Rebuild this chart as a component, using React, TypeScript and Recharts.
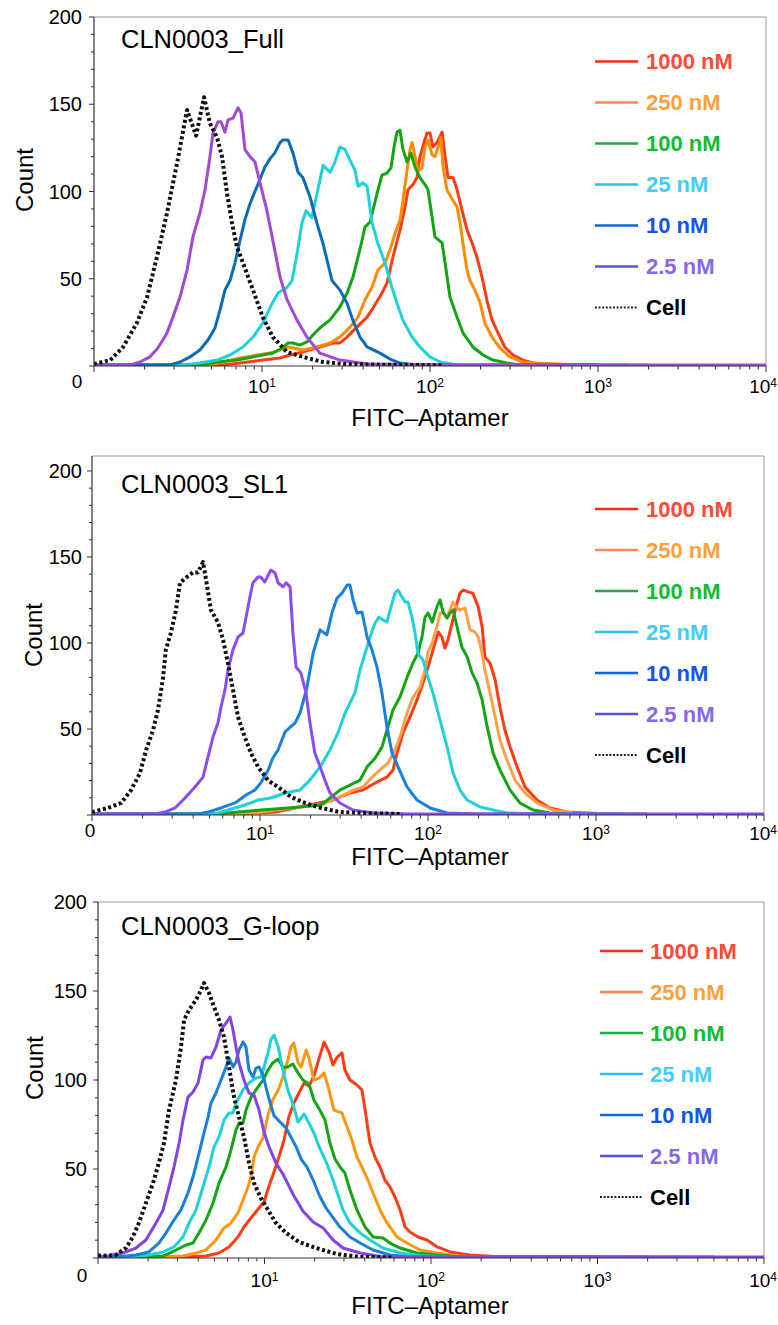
import React from 'react';
import { LineChart, Line, XAxis, YAxis, ReferenceLine } from 'recharts';

type Pt = [number, number];

const FONT = '"Liberation Sans", Arial, Helvetica, sans-serif';

// ---------- labels ----------
const seriesNames = ['1000 nM', '250 nM', '100 nM', '25 nM', '10 nM', '2.5 nM', 'Cell'];
const panelTitles = ['CLN0003_Full', 'CLN0003_SL1', 'CLN0003_G-loop'];
const xAxisTitle = 'FITC\u2013Aptamer';
const yAxisTitle = 'Count';
const yTicks = [0, 10, 20, 30, 40, 50, 60, 70, 80, 90, 100, 110, 120, 130, 140, 150, 160, 170, 180, 190, 200];
const yLabeled = [50, 100, 150, 200];
const xDecades = [1, 10, 100, 1000, 10000];
const xMinor = [2, 3, 4, 5, 6, 7, 8, 9, 20, 30, 40, 50, 60, 70, 80, 90, 200, 300, 400, 500, 600, 700, 800, 900, 2000, 3000, 4000, 5000, 6000, 7000, 8000, 9000];

// ---------- Panel 1 : CLN0003_Full ----------
const full1000: Pt[] = [[1,0.6],[5.86,0.6],[7.4,1.7],[10.1,3.4],[12.8,4.6],[14.7,6.3],[17.5,8],[22.1,10.9],[26.5,13.2],[29.1,13.2],[32.1,16.6],[36.7,22.3],[42.2,28],[45.8,33.2],[51.8,41.8],[55.5,47.6],[60.2,62.5],[66.3,78],[71,91],[74,101],[79.2,104],[83.7,108],[87.1,120],[92.1,128],[96,133.5],[100,133.5],[104,125.5],[110,128],[118,134],[123,120],[128,108],[137,108],[145,101],[155,89.4],[166,78],[178,70.5],[190,62.5],[204,51],[218,37.8],[234,26.4],[254,19],[279,10.9],[312,6.3],[358,3.4],[410,1.7],[540,0.6],[1000,0.6]];
const full250: Pt[] = [[1,0.6],[4.9,0.6],[5.86,2.3],[7.4,4.6],[9.33,6.3],[11.2,7.4],[12.8,9.2],[14.3,10.9],[15.3,10.3],[17.5,9.2],[21.2,10.9],[25.4,13.2],[29.1,16.6],[33.4,22.3],[37.3,28],[41,37.8],[45.2,45.3],[49,55],[54,59],[57.8,66.5],[61.9,76],[66.3,83.7],[69.1,95],[73,112],[76,124],[78.2,128],[81.4,120],[84.8,112],[89.6,113.5],[93.4,125.5],[97.3,129.5],[103,121],[107,120],[112,125.5],[116,131],[119,116],[126,101],[135,96],[145,91],[151,82],[157,70.5],[166,55],[173,49],[185,43.5],[199,36],[212,24.6],[234,16.6],[261,10.3],[299,5.2],[353,2.3],[410,1.7],[681,0.9]];
const full100: Pt[] = [[1,0.6],[4.27,0.6],[5.4,2.3],[7.1,3.4],[8.84,5.2],[10.1,6.3],[11.6,7.4],[13.2,10.3],[14.3,13.2],[15.3,13.2],[16.8,12],[18.5,13.8],[20.1,17.8],[22.1,21.8],[25.4,26.4],[29.1,33.8],[32.1,41.8],[34.8,51],[37.3,62.5],[39.4,72],[41,79.6],[44,82.5],[45.8,89.4],[48.4,99],[51.8,109.4],[55.5,110.6],[58.6,113.5],[61.1,125.5],[63.6,134],[66.3,135],[69.1,124],[73,117],[77.1,122],[81.4,114],[87.1,108],[93.4,104],[97.3,101],[103,85],[107,74],[118,70.5],[123,59],[131.5,39.5],[145,28],[157,19],[180,10.9],[207,6.3],[237,3.4],[287,1.7],[343,0.6],[1500,0.6]];
const full25: Pt[] = [[1,0.6],[3.39,0.6],[4.27,1.7],[5.4,3.4],[6.45,6.3],[7.71,10.9],[8.84,16.6],[10.1,24.6],[11.5,36],[12.5,42],[14.1,45],[15.1,49],[16.2,65],[17.3,82],[18.3,89],[19.8,85],[21.5,101],[23.1,115],[25.4,111],[27.2,117],[29.1,125.5],[31.2,124],[33.4,118],[35.8,112],[37.3,103],[39.9,105],[42.2,103],[45.2,82],[49,70],[54,59],[59.4,45],[63.6,36],[69.1,26],[78.2,16.6],[87.1,10.9],[100,5.2],[115,2.3],[145,0.6],[2000,0.6]];
const full10: Pt[] = [[1,0.6],[2.83,0.6],[3.25,2.3],[3.73,5.2],[4.27,9.2],[4.77,14.9],[5.25,21.8],[5.62,32],[6.02,43.5],[6.45,49],[6.9,59],[7.4,72],[7.92,84],[8.48,93],[9.08,100],[9.73,107],[10.4,114],[11.2,119],[11.9,122],[12.8,128],[13.3,129.5],[14.3,129.5],[15.3,122],[16.4,111],[17.5,108],[19.3,97],[21.2,82],[23.1,70],[26.1,49],[29.1,43.5],[32.1,36],[34.8,26],[38.3,16.6],[42.2,10.9],[50.4,7.4],[57.8,4],[66.3,1.7],[83.7,0.6],[1000,0.6]];
const full2p5: Pt[] = [[1,0.6],[1.64,0.6],[1.88,2.3],[2.15,5.2],[2.4,10.3],[2.72,18.9],[2.95,28],[3.25,39.5],[3.58,55],[3.88,74],[4.27,87.7],[4.58,101],[4.9,120],[5.11,133.5],[5.47,140],[5.7,140],[6.02,134],[6.28,141],[6.72,142],[7.2,148],[7.5,145],[7.92,124],[8.48,120],[9.08,117],[9.73,105],[10.7,89],[11.6,72],[12.8,51],[14.1,38],[16.2,26],[18.5,16.6],[22.1,7.4],[29.1,3.4],[42.2,1.1],[131,0.6],[10000,0.6]];
const fullCell: Pt[] = [[1,1.1],[1.25,3.4],[1.49,10.9],[1.8,24.6],[2.07,39.5],[2.37,62.5],[2.72,87.7],[3.12,116],[3.58,146.7],[4.05,132],[4.52,154],[4.9,139],[5.4,131],[5.78,120],[6.19,99],[6.63,82],[7.1,68],[7.71,59],[8.84,43.5],[10.1,28],[11.6,16.6],[14.1,8],[17.5,5.2],[23.1,2.3],[31.2,1.1],[66,0.6],[120,0.4]];

// ---------- Panel 2 : CLN0003_SL1 ----------
const sl1_1000: Pt[] = [[1,0.6],[7.6,0.6],[12.3,1.7],[17.3,4.7],[27.2,8.7],[34.3,12.8],[41,14.5],[49.7,19.2],[57,22],[61.9,26.2],[65.4,36],[71,47.7],[78.2,57],[86,66.9],[93.4,76.7],[103,90],[110,100],[115,106.4],[121,103.5],[126,97],[131.5,101.7],[139,111.6],[149,123.3],[155,129],[162,130.8],[173,129.7],[185,129],[199,121],[210,109.3],[218,91.9],[234,88.4],[251,78.5],[268,62.8],[287,49.4],[308,39.5],[339,28],[378,16.3],[446,8.7],[532,4.1],[672,1.7],[884,1.2],[1200,0.6],[2000,0.6]];
const sl1_250: Pt[] = [[1,0.6],[6.63,0.6],[10,1.7],[17.3,4.7],[22.8,5.8],[29.9,10.5],[35.8,14.5],[41,16.3],[46.4,22],[51.8,26.2],[57.8,30.2],[63.6,37.8],[68.1,45.3],[75,59.3],[81.4,68.6],[89.6,74.4],[96,84.3],[100,94.8],[106,100],[113,109.3],[118,117.4],[123,117.4],[130,114.5],[135,119.2],[141,123.8],[147,121],[155,119.2],[166,120.3],[178,107.6],[190,106.4],[199,103.5],[210,94],[218,84.3],[234,71],[251,57],[268,43.6],[295,32],[330,20.3],[378,12.8],[446,7],[555,2.9],[730,1.2],[1000,0.6],[2000,0.6]];
const sl1_100: Pt[] = [[1,0.6],[5.4,0.6],[7.4,1.7],[10.1,2.9],[14.7,4.1],[23.1,5.8],[26.1,9.9],[29.9,14.5],[34.3,17.4],[39.4,20.3],[43.4,28],[48.4,33],[53.2,39.5],[57,49.4],[61.9,61],[68.1,68.6],[75,80],[81.4,88.4],[87.1,94],[92.1,103.5],[96,115],[100,117.4],[106,112.2],[113,121],[118,125],[123,118],[130,114.5],[135,117.4],[141,119.2],[149,109.3],[159,97.7],[171,91.9],[183,82.6],[196,76.7],[210,66.9],[225,51.2],[244,36],[268,26.2],[308,14.5],[353,7],[422,2.9],[532,1.2],[700,0.6],[1500,0.6]];
const sl1_25: Pt[] = [[1,0.6],[5.4,0.6],[6.45,2.9],[8.14,5.8],[9.73,8.7],[11.6,9.9],[14.1,12.8],[17.3,14.5],[19.8,20.3],[22.8,28],[26.1,37.8],[29.1,47.7],[32.1,59.3],[34.3,65],[36.7,71],[39.4,84.3],[42.2,94],[45.2,103.5],[48.4,111.6],[51.1,115],[54,113.4],[57,112.2],[60.2,121],[63.6,129],[66.3,130.8],[70,126.7],[73,123.8],[76,123.8],[80.3,115],[83.7,105.8],[87.1,94],[93.4,90],[100,80],[107,71],[118,55],[130,39.5],[141,24.4],[155,14.5],[171,8.7],[204,4.7],[244,2.9],[295,1.2],[532,0.6],[2000,0.6]];
const sl1_10: Pt[] = [[1,0.6],[4.27,0.6],[4.9,1.7],[5.86,4.1],[7.1,7],[8.26,11.6],[9.33,14.5],[10.1,18.6],[11.2,26.2],[11.9,33],[12.8,37.8],[14.1,48.3],[15.1,51],[16.2,53.5],[17.3,59.3],[19,73.8],[20.7,94],[22.8,107.6],[25,104.7],[26.8,117.4],[28.7,126],[30.8,129],[33,133.7],[34.3,133.7],[35.8,125],[37.8,117.4],[40.5,118],[43.4,103.5],[46.4,96],[49.7,86],[53.2,71],[57,51],[61.1,36],[66.3,28],[75,16.3],[86,8.7],[103,4.1],[130,1.2],[204,0.6],[1000,0.6]];
const sl1_2p5: Pt[] = [[1,0.6],[2.37,0.6],[2.72,1.7],[3.12,4.1],[3.58,9.9],[4.1,16.3],[4.58,22],[4.9,33.7],[5.25,45.3],[5.62,53.5],[5.86,62.8],[6.19,72.7],[6.45,84.3],[6.9,96],[7.4,103.5],[7.92,105.8],[8.26,115],[8.71,126.7],[9.08,135],[9.73,138.4],[10.1,138.4],[10.7,135.5],[11.2,139.5],[11.6,142.4],[12.3,140.7],[12.8,135],[13.7,132.6],[14.3,135],[15.1,132.6],[15.7,105.8],[16.4,86],[17.5,82.6],[18.8,71],[19.8,54],[21.2,36],[22.8,28],[24.4,20],[26.1,12.8],[29.9,7],[35.8,2.9],[47.1,1.2],[80,0.6],[10000,0.6]];
const sl1Cell: Pt[] = [[1,1.7],[1.245,4.1],[1.49,7],[1.71,14.5],[1.93,24.4],[2.1,37.8],[2.31,49.4],[2.47,61],[2.65,80],[2.75,96],[2.95,106],[3.16,119],[3.34,135],[3.63,138],[3.99,141],[4.27,141],[4.58,147],[4.77,137],[5.11,119],[5.62,112],[6.02,102],[6.45,88],[6.9,73],[7.4,57],[8.14,45],[8.84,36],[9.73,28],[11.2,20],[12.8,16.3],[15.3,10.5],[18.5,7],[23.1,4.1],[29.9,1.7],[39.4,1.2],[68,0.6]];

// ---------- Panel 3 : CLN0003_G-loop ----------
const gloop_1000: Pt[] = [[1,0.6],[3.24,0.6],[4.45,1.1],[5.33,2.8],[6.12,6.2],[6.93,11.8],[7.53,17.4],[8.3,22.5],[9.27,28.1],[9.93,31.5],[10.6,39.9],[11.4,48.3],[12.2,56.7],[13.1,66.3],[14,79.2],[15,87.1],[16.1,92.7],[17.3,98.3],[18.5,96.6],[19.8,102.2],[21.3,112.4],[22.8,121.3],[24.4,115.7],[25.8,108.4],[27.3,112.9],[29.2,115.2],[30.4,105.6],[32.6,100],[35.9,97.2],[38.5,94.4],[40.2,83.1],[43,64.6],[46.1,56.7],[49.4,51.1],[52.9,43.8],[56.7,39.9],[60.8,34.3],[65.2,27],[69.8,17.4],[74.8,14.6],[83.6,11.8],[94.6,10.1],[109,6.2],[130,3.4],[171,1.7],[271,0.6],[5000,0.6]];
const gloop_250: Pt[] = [[1,0.6],[2.46,0.6],[3.24,1.1],[3.88,2.8],[4.45,4.5],[5.11,10.1],[5.71,16.9],[6.29,19.7],[6.93,25.3],[7.43,32.6],[7.96,39.9],[8.3,45.5],[8.65,56.7],[9.14,62.4],[9.8,67.5],[10.5,80.3],[11.2,88.8],[12.1,94.4],[12.9,101.7],[13.8,111.2],[14.4,118.5],[15,120.8],[15.9,109.6],[16.6,107.3],[17.8,116.9],[18.5,112.4],[19.8,100],[21.3,101.1],[22.8,104],[24.4,94.4],[26.1,83.1],[29.2,81.5],[31.3,73.6],[33.5,66.3],[35.9,56.7],[38.5,51.1],[41.8,43.8],[44.9,36.5],[49.4,27],[54.4,19.7],[62.5,11.8],[71.8,8.4],[85.9,4.5],[109,2.8],[143,1.1],[205,0.6],[3000,0.6]];
const gloop_100: Pt[] = [[1,0.6],[1.94,0.6],[2.46,1.1],[2.94,4.5],[3.38,7.3],[3.72,8.4],[4.04,14],[4.45,21.3],[4.91,30.9],[5.33,42.1],[5.87,51.1],[6.29,60.7],[6.74,71.9],[7.03,75.8],[7.43,75.8],[7.74,83.1],[8.3,90.4],[8.89,94.4],[9.8,100],[10.5,105.6],[11.2,109.6],[12.1,111.8],[12.9,107],[13.8,107.3],[14.8,109],[15.9,104],[17,100],[18.5,97.8],[19.8,88.8],[21.5,83.1],[23.1,77.5],[24.7,64.6],[26.5,55.6],[28.4,51.1],[30.4,47.8],[32.6,38.2],[35.9,27],[40.2,17.4],[44.9,11.8],[51.5,11.2],[56.7,8.4],[65.2,5.6],[82.4,2.8],[109,1.7],[156,0.6],[2000,0.6]];
const gloop_25: Pt[] = [[1,0.6],[1.54,0.6],[2.02,1.7],[2.46,3.4],[2.86,6.2],[3.24,11.8],[3.52,19.7],[3.88,27],[4.27,39.9],[4.64,51.1],[4.98,62.4],[5.33,68],[5.71,77.5],[6.12,81.5],[6.47,81.5],[6.74,87.1],[7.43,94.4],[8.07,98.3],[8.89,101.1],[9.53,101.7],[9.93,107.3],[10.5,115.2],[10.9,122.5],[11.4,125.3],[12.1,118.5],[12.9,105.6],[13.8,94.4],[14.8,86.8],[15.9,76.4],[17.3,80.9],[18.5,75.8],[19.8,70.2],[21.3,62.4],[23.4,54.2],[25.8,43.8],[29.6,27],[32.6,19.7],[37.5,14],[43,10.1],[51.5,5.6],[65.2,2.8],[89.5,1.2],[130,0.6],[1500,0.6]];
const gloop_10: Pt[] = [[1,0.6],[1.28,0.6],[1.69,1.7],[2.02,3.4],[2.32,8.4],[2.56,14],[2.86,21.3],[3.15,27],[3.47,36.5],[3.72,45.5],[3.99,56.7],[4.27,68],[4.58,79.2],[4.77,87.1],[5.11,92.7],[5.48,100],[5.87,107.3],[6.12,112.4],[6.47,107.3],[6.74,110.1],[7.03,116.9],[7.43,121.3],[7.74,118.5],[8.07,105.6],[8.53,101.7],[8.89,106.7],[9.27,107.3],[9.8,102.8],[10.2,96],[10.6,90],[11.4,80],[12.4,76.4],[13.5,73],[14.4,68],[15.5,62.4],[16.6,55.6],[18,51.1],[19.6,43.8],[21.3,35.4],[23.4,28.1],[25.8,22.7],[28.4,17.4],[32.6,11.8],[37.5,8.4],[44.9,4.5],[56.7,1.7],[74.8,0.6],[1000,0.6]];
const gloop_2p5: Pt[] = [[1,0.6],[1.07,0.6],[1.41,2.8],[1.69,5.6],[1.94,10.1],[2.23,19.7],[2.46,27],[2.67,39.9],[2.86,51.1],[3.07,64.6],[3.24,77.5],[3.47,90.4],[3.72,93.3],[3.99,98.3],[4.27,111.2],[4.45,112.9],[4.77,112.4],[5.11,118.5],[5.48,128.1],[5.87,132],[6.21,135.4],[6.47,128.1],[6.74,118.5],[7.03,109.6],[7.53,100],[8.07,92.7],[8.65,91.6],[9.27,83.1],[9.93,70.8],[10.6,62.9],[11.7,53.4],[12.9,47.2],[14.8,36],[17,26.4],[19.6,20.2],[22.5,16.9],[25.8,10.1],[29.6,5.6],[37.5,2.8],[51.5,0.6],[10000,0.6]];
const gloopCell: Pt[] = [[1,1.5],[1.07,1.2],[1.28,1.7],[1.47,5.6],[1.62,11.8],[1.76,19.7],[1.94,30.9],[2.14,42.1],[2.32,53.4],[2.49,64.6],[2.67,83.1],[2.94,100],[3.15,118.5],[3.29,133.7],[3.52,139.3],[3.88,145],[4.16,150.6],[4.33,154.5],[4.64,148.9],[4.98,141],[5.33,133.7],[5.71,124.2],[6.12,107.3],[6.56,90.4],[7.03,79.2],[7.53,68],[8.07,53.4],[8.65,42.1],[9.53,33.5],[10.5,27],[11.7,19.7],[13.5,14],[16.1,9],[20.4,5.6],[27.3,2.2],[37.5,0.6],[60,0.3]];

// ---------- styling ----------
const legendLineColors = ['#ff2a0a', '#ff8850', '#22aa44', '#33bbee', '#1166dd', '#5555dd', '#222222'];
const legendTextColors = ['#ff4a38', '#ffa040', '#11bb33', '#44ccff', '#1155ee', '#8866f0', '#000000'];
const curveColorsFull = ['#ff3c14', '#ff8c00', '#14a514', '#1ed2d8', '#0b6cb5', '#a24ad2', '#111111'];
const curveColorsSL1 = ['#ff3c14', '#ffa048', '#14a514', '#1ed2d8', '#1a80e0', '#8a4cf6', '#111111'];
const curveColorsGloop = ['#ff3c14', '#ff9610', '#14a514', '#1ed2d8', '#1a7fd8', '#8344e0', '#111111'];

type PanelCfg = {
  title: string;
  series: Pt[][];
  colors: string[];
  divTop: number;
  divHeight: number;
  plotTop: number;
  plotBottom: number;
  plotLeft: number;
  plotRight: number;
  yMax: number;
  yGap: number;
  xLabelDy: number;
  zeroDx: number;
  zeroDy: number;
  titleY: number;
  xTitleY: number;
  countX: number;
  countY: number;
  legendY: number;
  legendLineX: number;
  legendTextX: number;
};

const panels: PanelCfg[] = [
  {
    title: panelTitles[0], series: [full1000, full250, full100, full25, full10, full2p5, fullCell], colors: curveColorsFull,
    divTop: 0, divHeight: 440, plotTop: 17, plotBottom: 366, plotLeft: 94, plotRight: 766, yMax: 200,
    yGap: 12, xLabelDy: 27, zeroDx: -17, zeroDy: -5, titleY: 48, xTitleY: 426, countX: 33, countY: 180,
    legendY: 61.5, legendLineX: 595, legendTextX: 646,
  },
  {
    title: panelTitles[1], series: [sl1_1000, sl1_250, sl1_100, sl1_25, sl1_10, sl1_2p5, sl1Cell], colors: curveColorsSL1,
    divTop: 440, divHeight: 440, plotTop: 456, plotBottom: 815, plotLeft: 92, plotRight: 764, yMax: 208.7,
    yGap: 10, xLabelDy: 25, zeroDx: -2, zeroDy: -3, titleY: 493, xTitleY: 865, countX: 42, countY: 635,
    legendY: 509, legendLineX: 595, legendTextX: 646,
  },
  {
    title: panelTitles[2], series: [gloop_1000, gloop_250, gloop_100, gloop_25, gloop_10, gloop_2p5, gloopCell], colors: curveColorsGloop,
    divTop: 880, divHeight: 445, plotTop: 902, plotBottom: 1258, plotLeft: 98, plotRight: 764, yMax: 200,
    yGap: 11, xLabelDy: 29, zeroDx: -16, zeroDy: -5, titleY: 935, xTitleY: 1314, countX: 43, countY: 1068,
    legendY: 951, legendLineX: 600, legendTextX: 650,
  },
];

const xTicks = [...xDecades, ...xMinor].sort((a, b) => a - b);

function XTick(props: any) {
  const { x, y, payload, cfg } = props;
  const v = payload.value as number;
  const exp = Math.round(Math.log10(v));
  const major = xDecades.indexOf(v) >= 0;
  const last = v === 10000;
  return (
    <g>
      <line x1={x} x2={x} y1={y} y2={y + (major ? 6 : 3.5)} stroke="#333" strokeWidth={1} />
      {major && exp === 0 && (
        <text x={x + cfg.zeroDx} y={y + cfg.xLabelDy + cfg.zeroDy} textAnchor="middle" fontSize={19} fill="#000" fontFamily={FONT}>0</text>
      )}
      {major && exp > 0 && (
        <text
          x={last ? 777 : x}
          y={y + cfg.xLabelDy}
          textAnchor={last ? 'end' : 'middle'}
          fontSize={19}
          fill="#000"
          fontFamily={FONT}
        >
          10<tspan dy={-6} fontSize={12}>{exp}</tspan>
        </text>
      )}
    </g>
  );
}

function YTick(props: any) {
  const { x, y, payload, cfg } = props;
  const v = payload.value as number;
  const major = v % 50 === 0;
  return (
    <g>
      <line x1={x - (major ? 5 : 3)} x2={x} y1={y} y2={y} stroke="#333" strokeWidth={1} />
      {yLabeled.indexOf(v) >= 0 && (
        <text x={x - cfg.yGap} y={y + 7} textAnchor="end" fontSize={20} fill="#000" fontFamily={FONT}>{v}</text>
      )}
    </g>
  );
}

function Panel({ cfg }: { cfg: PanelCfg }) {
  const data = cfg.series.map((s) => s.map(([x, y]) => ({ x, y })));
  return (
    <div style={{ position: 'absolute', left: 0, top: cfg.divTop, width: 778, height: cfg.divHeight }}>
      <LineChart
        width={778}
        height={cfg.divHeight}
        margin={{ top: cfg.plotTop - cfg.divTop, right: 778 - cfg.plotRight, bottom: 0, left: 0 }}
      >
        <XAxis
          dataKey="x"
          type="number"
          scale="log"
          domain={[1, 10000]}
          allowDataOverflow
          ticks={xTicks}
          interval={0}
          height={cfg.divTop + cfg.divHeight - cfg.plotBottom}
          tickSize={0}
          tickMargin={0}
          tickLine={false}
          axisLine={{ stroke: '#333', strokeWidth: 1.2 }}
          tick={(p: any) => <XTick {...p} cfg={cfg} />}
        />
        <YAxis
          type="number"
          domain={[0, cfg.yMax]}
          allowDataOverflow
          ticks={yTicks}
          interval={0}
          width={cfg.plotLeft}
          tickSize={0}
          tickMargin={0}
          tickLine={false}
          axisLine={{ stroke: '#333', strokeWidth: 1.2 }}
          tick={(p: any) => <YTick {...p} cfg={cfg} />}
        />
        <ReferenceLine y={cfg.yMax} stroke="#9a9a9a" strokeWidth={1} ifOverflow="visible" />
        <ReferenceLine x={10000} stroke="#9a9a9a" strokeWidth={1} ifOverflow="visible" />
        {data.map((d, i) => (
          <Line
            key={seriesNames[i]}
            name={seriesNames[i]}
            data={d}
            dataKey="y"
            type="linear"
            stroke={cfg.colors[i]}
            strokeWidth={i === 6 ? 4 : 3}
            strokeDasharray={i === 6 ? '3 2.6' : undefined}
            strokeLinejoin="round"
            dot={false}
            activeDot={false}
            isAnimationActive={false}
          />
        ))}
      </LineChart>
    </div>
  );
}

function Overlay() {
  return (
    <svg width={778} height={1325} style={{ position: 'absolute', left: 0, top: 0, pointerEvents: 'none' }}>
      {panels.map((cfg, pi) => (
        <g key={pi} fontFamily={FONT}>
          <text x={121} y={cfg.titleY} fontSize={25.5} fill="#000">{cfg.title}</text>
          <text x={430} y={cfg.xTitleY} fontSize={24} fill="#000" textAnchor="middle">{xAxisTitle}</text>
          <text
            x={cfg.countX}
            y={cfg.countY}
            fontSize={24}
            fill="#000"
            textAnchor="middle"
            transform={`rotate(-90 ${cfg.countX} ${cfg.countY})`}
          >
            {yAxisTitle}
          </text>
          {seriesNames.map((n, i) => {
            const ly = cfg.legendY + i * 41;
            return (
              <g key={n}>
                <line
                  x1={cfg.legendLineX}
                  x2={cfg.legendLineX + 43}
                  y1={ly}
                  y2={ly}
                  stroke={legendLineColors[i]}
                  strokeWidth={i === 6 ? 2 : 2.4}
                  strokeDasharray={i === 6 ? '2 1.6' : undefined}
                />
                <text x={cfg.legendTextX} y={ly + 7.5} fontSize={22} fontWeight="bold" fill={legendTextColors[i]}>{n}</text>
              </g>
            );
          })}
        </g>
      ))}
    </svg>
  );
}

export default function App() {
  return (
    <div style={{ position: 'absolute', left: 0, top: 0, width: 778, height: 1325, background: '#fff', fontFamily: FONT }}>
      {panels.map((cfg, i) => (
        <Panel key={i} cfg={cfg} />
      ))}
      <Overlay />
    </div>
  );
}
